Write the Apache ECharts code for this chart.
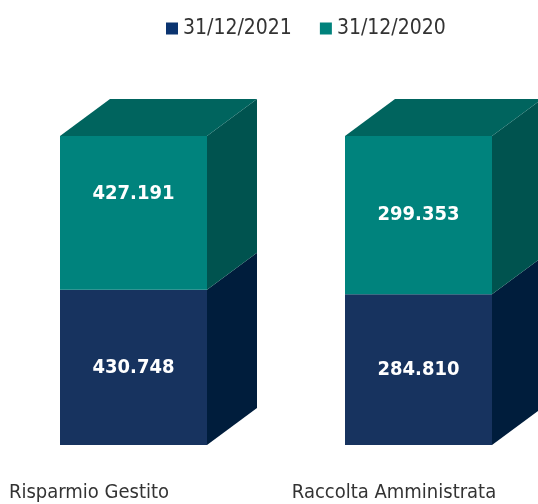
<!DOCTYPE html>
<html>
<head>
<meta charset="utf-8">
<script src="https://cdn.jsdelivr.net/npm/echarts@6/dist/echarts.min.js"></script>
<style>
  html, body { margin: 0; padding: 0; background: #fff; }
  #chart { width: 538px; height: 504px; }
</style>
</head>
<body>
<div id="chart"></div>
<script>
const categories = ['Risparmio Gestito', 'Raccolta Amministrata'];
const seriesNames = ['31/12/2021', '31/12/2020'];
const values2021 = [430748, 284810];
const values2020 = [427191, 299353];

const FONT = '"DejaVu Sans Condensed", "DejaVu Sans", sans-serif';
const faces = {
  '31/12/2021': { front: '#17335f', side: '#001d3c', top: '#10294e', legend: '#0b3470' },
  '31/12/2020': { front: '#00837d', side: '#00534f', top: '#00645e', legend: '#00827c' }
};
const DX = 50, DY = 37, BAR_W = 147;
// the upper label of the first bar sits higher in the original
const labelLift = { '31/12/2020': [19, 0] };

function fmt(v) {
  return String(v).replace(/\B(?=(\d{3})+(?!\d))/g, '.');
}

const stacks = [values2021, values2020];
const totals = categories.map((c, i) => values2021[i] + values2020[i]);

function makeSeries(idx) {
  const name = seriesNames[idx];
  const vals = stacks[idx];
  const isTop = idx === stacks.length - 1;
  const f = faces[name];
  return {
    name: name,
    type: 'custom',
    itemStyle: { color: f.legend },
    data: vals.map((v, i) => {
      let base = 0;
      for (let k = 0; k < idx; k++) base += stacks[k][i];
      return [i, base / totals[i] * 100, (base + v) / totals[i] * 100, v];
    }),
    renderItem: function (params, api) {
      const lo = api.coord([api.value(0), api.value(1)]);
      const hi = api.coord([api.value(0), api.value(2)]);
      const x0 = lo[0] - BAR_W / 2, x1 = lo[0] + BAR_W / 2;
      const y0 = lo[1], y1 = hi[1];
      const lift = (labelLift[name] || [])[params.dataIndex] || 0;
      const children = [
        { type: 'rect', shape: { x: x0, y: y1, width: BAR_W, height: y0 - y1 }, style: { fill: f.front } },
        { type: 'polygon', shape: { points: [[x1, y0], [x1 + DX, y0 - DY], [x1 + DX, y1 - DY], [x1, y1]] }, style: { fill: f.side } }
      ];
      if (isTop) {
        children.push({ type: 'polygon', shape: { points: [[x0, y1], [x1, y1], [x1 + DX, y1 - DY], [x0 + DX, y1 - DY]] }, style: { fill: f.top } });
      }
      children.push({
        type: 'text',
        style: {
          text: fmt(api.value(3)),
          x: lo[0], y: (y0 + y1) / 2 - lift,
          align: 'center', verticalAlign: 'middle',
          fill: '#ffffff', font: 'bold 20px ' + FONT
        }
      });
      return { type: 'group', children: children };
    }
  };
}

const chart = echarts.init(document.getElementById('chart'));
chart.setOption({
  animation: false,
  legend: {
    data: seriesNames,
    top: 13, left: 161,
    icon: 'rect', itemWidth: 12, itemHeight: 12, itemGap: 28,
    textStyle: { fontFamily: FONT, fontSize: 21, color: '#333' }
  },
  grid: { left: -9, right: -23, top: 136, bottom: 59, outerBoundsMode: 'none', containLabel: false },
  xAxis: {
    type: 'category',
    data: categories,
    axisLine: { show: false },
    axisTick: { show: false },
    axisLabel: {
      margin: 38,
      formatter: function (v, i) { return '{c' + i + '|' + v + '}'; },
      rich: {
        c0: { fontFamily: FONT, fontSize: 20, color: '#333', padding: [0, 89, 0, 0] },
        c1: { fontFamily: FONT, fontSize: 20, color: '#333', padding: [0, 49, 0, 0] }
      }
    }
  },
  yAxis: { type: 'value', min: 0, max: 100, show: false },
  series: seriesNames.map((n, i) => makeSeries(i))
});
</script>
</body>
</html>
